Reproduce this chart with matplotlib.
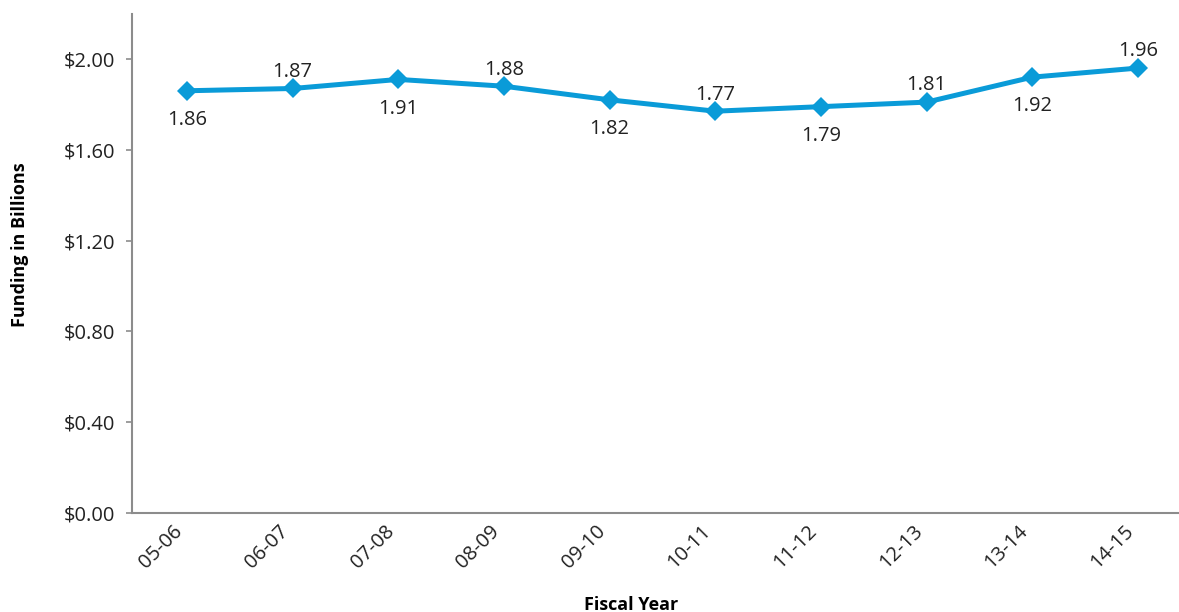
import matplotlib
matplotlib.use("Agg")
import matplotlib.pyplot as plt

years = ["05-06", "06-07", "07-08", "08-09", "09-10",
         "10-11", "11-12", "12-13", "13-14", "14-15"]
funding = [1.86, 1.87, 1.91, 1.88, 1.82, 1.77, 1.79, 1.81, 1.92, 1.96]
label_below = [True, False, True, False, True, False, True, False, True, False]
yticks = [0.0, 0.4, 0.8, 1.2, 1.6, 2.0]

plt.rcParams["font.family"] = ["Open Sans", "DejaVu Sans"]

BLUE = "#0a9bd8"
GREY = "#8c8c8c"
TXT = "#222222"

fig = plt.figure(figsize=(11.79, 6.12), dpi=100)
ax = fig.add_axes([0.112, 0.1618, 0.898, 0.816])

x = list(range(len(years)))
ax.plot(x, funding, color=BLUE, linewidth=3.6, marker="D",
        markersize=10.5, markeredgewidth=0, zorder=3)

for xi, v, below in zip(x, funding, label_below):
    off = -21 if below else 12
    ax.annotate(f"{v:.2f}", (xi, v), xytext=(0, off), textcoords="offset points",
                ha="center", va="center", fontsize=14.5, color=TXT)

ax.set_xlim(-0.52, 9.5)
ax.set_ylim(0, 2.2)
ax.set_yticks(yticks)
ax.set_yticklabels([f"${t:.2f}" for t in yticks])
ax.set_xticks(x)
ax.set_xticklabels(years, rotation=45, ha="right")

for s in ["top", "right"]:
    ax.spines[s].set_visible(False)
for s in ["left", "bottom"]:
    ax.spines[s].set_color(GREY)
    ax.spines[s].set_linewidth(1.5)

ax.tick_params(axis="y", length=4, width=1.2, color=GREY, pad=8,
               labelsize=14.5, labelcolor=TXT)
ax.tick_params(axis="x", length=0, pad=6, labelsize=14.5, labelcolor=TXT)

fig.text(0.017, 0.60, "Funding in Billions", rotation=90, ha="center",
         va="center", fontsize=13, fontweight="bold", color="black")
fig.text(0.535, 0.012, "Fiscal Year", ha="center", va="center",
         fontsize=13, fontweight="bold", color="black")

fig.savefig("out.png", dpi=100)
